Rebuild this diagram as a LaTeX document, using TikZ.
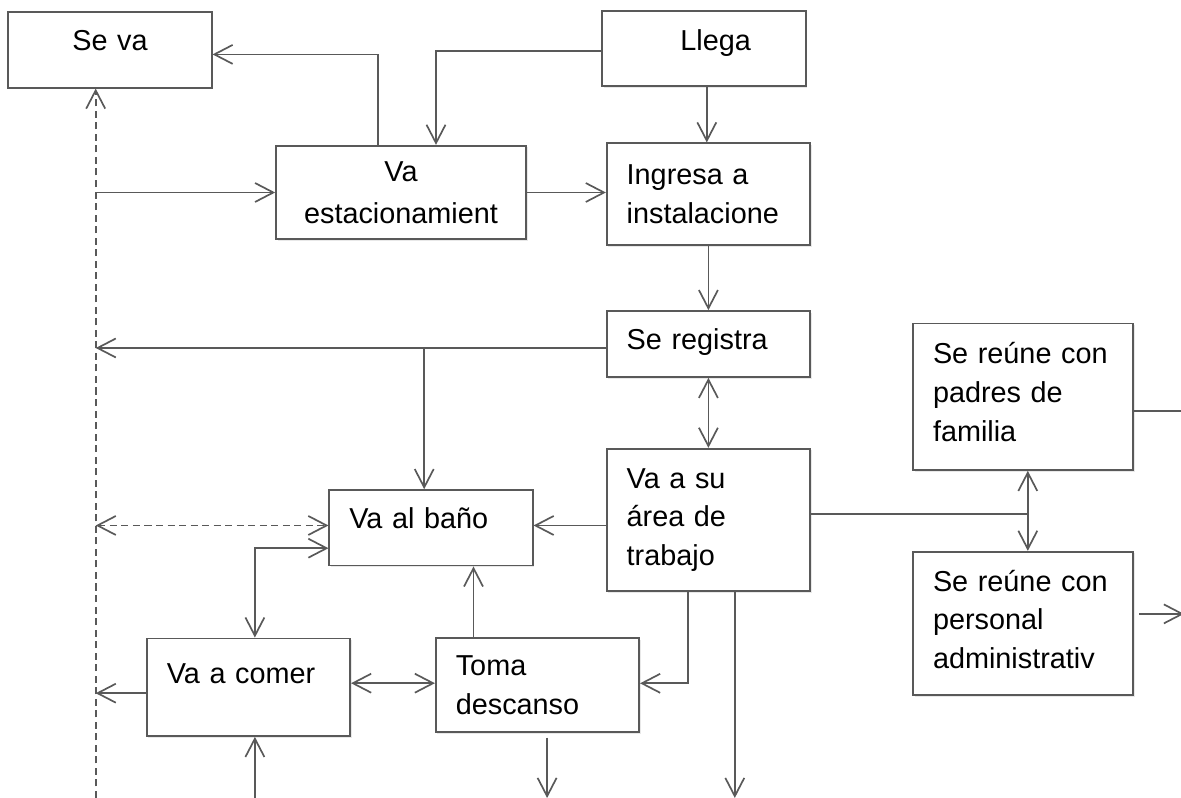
\documentclass[tikz,border=0pt]{standalone}
\usepackage{fontspec}
\setmainfont{Liberation Sans}
\usetikzlibrary{positioning, arrows.meta, shadows}
\definecolor{linegray}{RGB}{89,89,89}
\newcommand{\boxfont}{\fontsize{20.5}{27.5}\selectfont}

\begin{document}
\begin{tikzpicture}[
    node distance=1.6cm,
    paso/.style={draw=linegray, fill=white, rectangle, line width=1.2pt, font=\boxfont, text width=4.085cm, align=left, inner xsep=0.5cm, inner ysep=0pt, drop shadow={opacity=0.18, shadow xshift=1.2pt, shadow yshift=-1.2pt}},
    conn/.style={draw=linegray, line width=1.2pt},
    dashline/.style={conn, dash pattern=on 5pt off 3.2pt},
    >={Straight Barb[length=13pt, width=13.5pt]}
]
\useasboundingbox (0,0) rectangle (29.525,-19.95);
\coordinate (bottom) at (0,-19.95);
\coordinate (right) at (29.525,0);
\coordinate (rightout) at (29.6,0);

% boxes
\node[paso, align=center, text height=14.7pt, text depth=13.5pt, minimum height=1.885cm] (seva) at (2.75,-1.25) {Se va};
\node[paso, align=center, text height=14.7pt, text depth=12.1pt, minimum height=1.875cm] (llega) at (17.6,-1.2125) {\hspace*{0.58cm}Llega};
\node[paso, align=center, text width=5.25cm, minimum height=2.34cm] (estac) at (10.025,-4.8125) {Va\\[2pt]estacionamient};
\node[paso, minimum height=2.55cm] (ingresa) at (17.71,-4.8575) {Ingresa a\\instalacione};
\node[paso, text height=14.7pt, text depth=6.4pt, minimum height=1.65cm, below=of ingresa] (registra) {Se registra};
\node[paso, minimum height=3.56cm, below=1.75cm of registra] (area) {Va a su\\área de\\trabajo};
\node[paso, text height=14.7pt, text depth=14.2pt, minimum height=1.89cm] (bano) at (10.775,-13.195) {Va al baño};
\node[paso, text height=14.7pt, text depth=20.6pt, minimum height=2.44cm] (comer) at (6.2125,-17.18) {Va a comer};
\node[paso, minimum height=2.35cm] (toma) at (13.4375,-17.1325) {Toma\\descanso};
\node[paso, text width=4.5cm, text depth=62pt, minimum height=3.66cm] (padres) at (25.575,-9.92) {Se reúne con\\padres de\\familia};
\node[paso, text width=4.5cm, text depth=60.7pt, minimum height=3.58cm, below=2cm of padres] (personal) {Se reúne con\\personal\\administrativ};

% dashed line on the left
\coordinate (sptop) at ([xshift=-0.3575cm]seva.south);
\draw[dashline, ->] (sptop |- bottom) -- (sptop);

% top part
\coordinate (ea) at ([xshift=0.875cm]estac.north);
\draw[conn, ->] ([yshift=-0.055cm]llega.west) -| (ea);
\draw[conn, ->] ([xshift=0.07cm]llega.south) coordinate (ls) -- (ls |- ingresa.north);
\draw[conn, ->] ([xshift=-0.58cm]estac.north) |- ([yshift=-0.11cm]seva.east);
\draw[conn, ->] (sptop |- estac.west) -- (estac.west);
\draw[conn, ->] (estac.east) -- (estac.east -| ingresa.west);
\draw[conn, ->] (ingresa) -- (registra);

% registra and area
\draw[conn, ->] ([yshift=-0.1cm]registra.west) coordinate (rw) -- (rw -| sptop);
\coordinate (bn) at ([xshift=-0.17cm]bano.north);
\draw[conn, ->] (bn |- rw) -- (bn);
\draw[conn, <->] (registra) -- (area);
\draw[conn, ->] ([yshift=-0.14cm]area.west) coordinate (aw) -- (aw -| bano.east);
\draw[dashline, <->] (aw -| sptop) -- (aw -| bano.west);

% lower part
\draw[conn, <->] ([yshift=-0.51cm]bano.west) -| ([xshift=0.16cm]comer.north);
\draw[conn, ->] ([yshift=-0.15cm]comer.west) coordinate (cw) -- (cw -| sptop);
\draw[conn, <->] ([yshift=0.1cm]comer.east) coordinate (ce) -- (ce -| toma.west);
\coordinate (tn) at ([xshift=-1.6cm]toma.north);
\draw[conn, ->] (tn) -- (tn |- bano.south);
\draw[conn, ->] ([xshift=-0.51cm]area.south) |- ([yshift=0.05cm]toma.east);
\coordinate (as) at ([xshift=0.66cm]area.south);
\draw[conn, ->] (as) -- (as |- bottom);
\coordinate (ts) at ([xshift=0.24cm,yshift=-0.11cm]toma.south);
\draw[conn, ->] (ts) -- (ts |- bottom);
\coordinate (cs) at ([xshift=0.16cm]comer.south);
\draw[conn, ->] (cs |- bottom) -- (cs);

% right part
\coordinate (pm) at ([xshift=0.12cm]padres.south);
\draw[conn] ([yshift=0.14cm]area.east) coordinate (ae) -- (ae -| pm);
\draw[conn, <->] (pm) -- (pm |- personal.north);
\draw[conn] ([yshift=-0.36cm]padres.east) coordinate (pe) -- (pe -| right);
\draw[conn, ->] ([xshift=0.13cm,yshift=0.235cm]personal.east) coordinate (qe) -- (qe -| rightout);
\end{tikzpicture}
\end{document}
